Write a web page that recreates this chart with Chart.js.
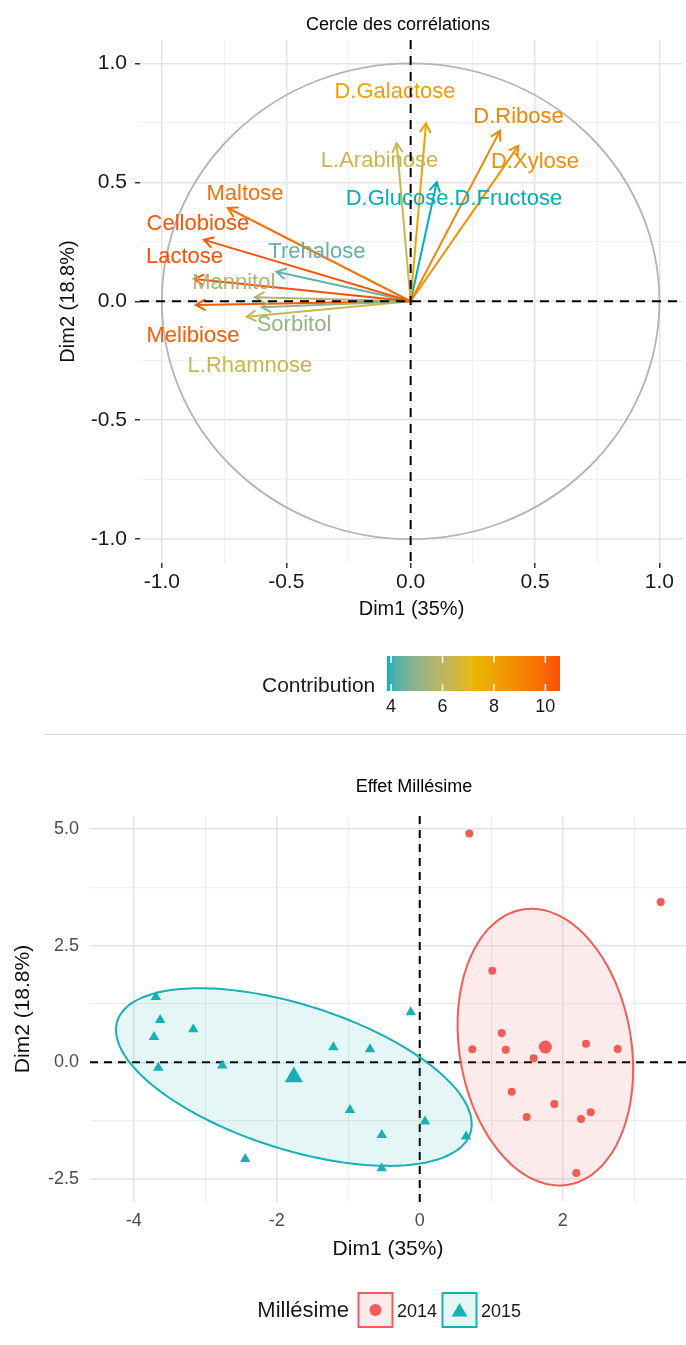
<!DOCTYPE html>
<html lang="fr">
<head>
<meta charset="utf-8">
<title>ACP sucres</title>
<script src="https://cdn.jsdelivr.net/npm/chart.js@4.4.1/dist/chart.umd.min.js"></script>
<style>
  html, body { margin: 0; padding: 0; background: #fff; }
  #page { position: relative; width: 686px; height: 1345px; overflow: hidden; }
  #varCanvas { position: absolute; left: 0; top: 0; }
  #sep { position: absolute; left: 44px; top: 734px; width: 642px; height: 1px; background: #d6d6d6; }
  #indCanvas { position: absolute; left: 0; top: 735px; }
</style>
</head>
<body>
<div id="page">
  <canvas id="varCanvas" width="686" height="735"></canvas>
  <div id="sep"></div>
  <canvas id="indCanvas" width="686" height="610"></canvas>
</div>
<script>
// --- cercle des corrélations : variables ---
const sugars = ["Maltose", "Cellobiose", "Lactose", "Trehalose", "Mannitol", "Sorbitol", "Melibiose",
  "L.Rhamnose", "D.Galactose", "L.Arabinose", "D.Glucose.D.Fructose", "D.Ribose", "D.Xylose"];
const dim1 = [-0.735, -0.831, -0.870, -0.539, -0.626, -0.599, -0.863, -0.659, 0.062, -0.056, 0.105, 0.359, 0.433];
const dim2 = [0.392, 0.258, 0.094, 0.124, 0.017, -0.025, -0.016, -0.065, 0.748, 0.664, 0.500, 0.716, 0.653];
const contrib = [9.7, 10.45, 10.57, 4.4, 5.6, 5.15, 10.3, 6.3, 8.05, 6.35, 3.84, 9.15, 8.75];
// label anchors (repelled text positions)
const labelDim1 = [-0.666, -0.855, -0.909, -0.377, -0.711, -0.469, -0.875, -0.646, -0.063, -0.125, 0.174, 0.434, 0.500];
const labelDim2 = [0.452, 0.325, 0.185, 0.207, 0.078, -0.100, -0.145, -0.271, 0.881, 0.591, 0.430, 0.774, 0.584];
const contribTicks = [4, 6, 8, 10];

// --- individus par millésime ---
const years = ["2014", "2015"];
const x2014 = [0.694, 3.37, 1.015, 1.147, 0.736, 1.203, 1.594, 2.326, 2.769, 1.287, 1.883, 1.496, 2.256, 2.392, 2.19];
const y2014 = [4.90, 3.43, 1.96, 0.627, 0.278, 0.27, 0.086, 0.40, 0.285, -0.63, -0.893, -1.171, -1.214, -1.071, -2.37];
const x2015 = [-3.69, -3.63, -3.166, -3.716, -3.656, -2.76, -1.208, -0.695, -0.126, -0.975, -0.531, 0.074, 0.648, -0.531, -2.44];
const y2015 = [1.40, 0.906, 0.707, 0.542, -0.115, -0.07, 0.321, 0.278, 1.07, -1.02, -1.557, -1.27, -1.59, -2.27, -2.07];
const ellipseLevel = 0.68;

const FONT = "'Liberation Sans', Arial, Helvetica, sans-serif";
Chart.defaults.font.family = FONT;

// colour gradient interpolated in Lab, like scale_color_gradientn
const gradientCols = ["#00AFBB", "#E7B800", "#FC4E07"];
const hexRgb = (h) => [1, 3, 5].map((i) => parseInt(h.substr(i, 2), 16));
function rgbLab(rgb) {
  const [r, g, b] = rgb.map((c) => {
    c /= 255;
    return c <= 0.04045 ? c / 12.92 : Math.pow((c + 0.055) / 1.055, 2.4);
  });
  const X = (0.4124564 * r + 0.3575761 * g + 0.1804375 * b) / 0.95047;
  const Y = 0.2126729 * r + 0.7151522 * g + 0.072175 * b;
  const Z = (0.0193339 * r + 0.119192 * g + 0.9503041 * b) / 1.08883;
  const f = (t) => (t > 216 / 24389 ? Math.cbrt(t) : ((24389 / 27) * t + 16) / 116);
  const fx = f(X), fy = f(Y), fz = f(Z);
  return [116 * fy - 16, 500 * (fx - fy), 200 * (fy - fz)];
}
function labRgb([L, a, b]) {
  const fy = (L + 16) / 116, fx = fy + a / 500, fz = fy - b / 200;
  const inv = (t) => (t ** 3 > 216 / 24389 ? t ** 3 : (116 * t - 16) / (24389 / 27));
  const X = inv(fx) * 0.95047, Y = inv(fy), Z = inv(fz) * 1.08883;
  const lin = [
    3.2404542 * X - 1.5371385 * Y - 0.4985314 * Z,
    -0.969266 * X + 1.8760108 * Y + 0.041556 * Z,
    0.0556434 * X - 0.2040259 * Y + 1.0572252 * Z
  ];
  return lin.map((c) => {
    c = c <= 0.0031308 ? 12.92 * c : 1.055 * Math.pow(c, 1 / 2.4) - 0.055;
    return Math.round(Math.min(1, Math.max(0, c)) * 255);
  });
}
const labStops = gradientCols.map((h) => rgbLab(hexRgb(h)));
const cMin = Math.min(...contrib), cMax = Math.max(...contrib);
function contribColor(v) {
  const t = Math.min(1, Math.max(0, (v - cMin) / (cMax - cMin))) * (labStops.length - 1);
  const k = Math.min(labStops.length - 2, Math.floor(t));
  const u = t - k;
  const lab = labStops[k].map((c, j) => c + (labStops[k + 1][j] - c) * u);
  const [r, g, b] = labRgb(lab);
  return `rgb(${r},${g},${b})`;
}

const isMult = (v, step) => Math.abs(v / step - Math.round(v / step)) < 1e-6;

// ---------- cercle des corrélations ----------
const varDecor = {
  id: "varDecor",
  beforeDatasetsDraw(chart) {
    const { ctx, scales: { x, y } } = chart;
    const cx = x.getPixelForValue(0), cy = y.getPixelForValue(0);
    const rx = x.getPixelForValue(1) - cx, ry = cy - y.getPixelForValue(1);
    ctx.save();
    ctx.strokeStyle = "#b4b4b4";
    ctx.lineWidth = 1.8;
    ctx.beginPath();
    ctx.ellipse(cx, cy, rx, ry, 0, 0, Math.PI * 2);
    ctx.stroke();
    ctx.restore();
  },
  afterDatasetsDraw(chart) {
    const { ctx, chartArea: a, scales: { x, y } } = chart;
    ctx.save();
    // arrowheads
    ctx.lineWidth = 2;
    ctx.lineCap = "round";
    sugars.forEach((s, i) => {
      const [p0, p1] = chart.getDatasetMeta(i).data;
      const ang = Math.atan2(p1.y - p0.y, p1.x - p0.x);
      ctx.strokeStyle = contribColor(contrib[i]);
      ctx.beginPath();
      ctx.moveTo(p1.x + 10 * Math.cos(ang + Math.PI - Math.PI / 6), p1.y + 10 * Math.sin(ang + Math.PI - Math.PI / 6));
      ctx.lineTo(p1.x, p1.y);
      ctx.lineTo(p1.x + 10 * Math.cos(ang + Math.PI + Math.PI / 6), p1.y + 10 * Math.sin(ang + Math.PI + Math.PI / 6));
      ctx.stroke();
    });
    // labels
    ctx.font = `22px ${FONT}`;
    ctx.textAlign = "center";
    ctx.textBaseline = "middle";
    sugars.forEach((s, i) => {
      ctx.fillStyle = contribColor(contrib[i]);
      ctx.fillText(s, x.getPixelForValue(labelDim1[i]), y.getPixelForValue(labelDim2[i]));
    });
    // axes at 0
    const x0 = x.getPixelForValue(0), y0 = y.getPixelForValue(0);
    ctx.strokeStyle = "#000";
    ctx.lineWidth = 2;
    ctx.lineCap = "butt";
    ctx.setLineDash([9, 7]);
    ctx.beginPath();
    ctx.moveTo(a.left, y0); ctx.lineTo(a.right, y0);
    ctx.moveTo(x0, a.top); ctx.lineTo(x0, a.bottom);
    ctx.stroke();
    ctx.restore();
  },
  afterDraw(chart) {
    const { ctx } = chart;
    ctx.save();
    ctx.fillStyle = "#000";
    ctx.font = `18px ${FONT}`;
    ctx.textAlign = "center";
    ctx.textBaseline = "middle";
    ctx.fillText("Cercle des corrélations", 398, 25);

    // colour bar legend
    const bl = 387, br = 560, bt = 656, bb = 691;
    for (let px = bl; px < br; px++) {
      ctx.fillStyle = contribColor(cMin + ((px + 0.5 - bl) / (br - bl)) * (cMax - cMin));
      ctx.fillRect(px, bt, 1, bb - bt);
    }
    ctx.strokeStyle = "#fff";
    ctx.lineWidth = 1.5;
    ctx.fillStyle = "#1a1a1a";
    ctx.font = `18px ${FONT}`;
    ctx.textBaseline = "alphabetic";
    contribTicks.forEach((t) => {
      const px = bl + ((t - cMin) / (cMax - cMin)) * (br - bl);
      ctx.beginPath();
      ctx.moveTo(px, bt); ctx.lineTo(px, bt + 7);
      ctx.moveTo(px, bb); ctx.lineTo(px, bb - 7);
      ctx.stroke();
      ctx.fillText(String(t), px, 712);
    });
    ctx.font = `21px ${FONT}`;
    ctx.textAlign = "left";
    ctx.fillText("Contribution", 262, 692);
    ctx.restore();
  }
};

new Chart(document.getElementById("varCanvas"), {
  type: "scatter",
  data: {
    datasets: sugars.map((s, i) => ({
      label: s,
      type: "line",
      data: [{ x: 0, y: 0 }, { x: dim1[i], y: dim2[i] }],
      borderColor: contribColor(contrib[i]),
      borderWidth: 2,
      pointRadius: 0,
      fill: false
    }))
  },
  options: {
    responsive: false,
    animation: false,
    events: [],
    layout: { autoPadding: false, padding: { top: 40, right: 3, bottom: 102, left: 0 } },
    plugins: { legend: { display: false }, tooltip: { enabled: false } },
    scales: {
      x: {
        type: "linear",
        min: -1.088,
        max: 1.095,
        afterFit: (s) => { s.height = 70; },
        border: { display: false },
        grid: {
          color: (c) => (isMult(c.tick.value, 0.5) ? "#e4e4e4" : "#f0f0f0"),
          lineWidth: (c) => (isMult(c.tick.value, 0.5) ? 1.5 : 1),
          tickLength: 5,
          tickWidth: 1.5,
          tickColor: (c) => (isMult(c.tick.value, 0.5) ? "#333" : "rgba(0,0,0,0)")
        },
        ticks: {
          stepSize: 0.25,
          includeBounds: false,
          autoSkip: false,
          maxRotation: 0,
          padding: 2,
          color: "#1a1a1a",
          font: { size: 21 },
          callback: (v) => (isMult(v, 0.5) ? v.toFixed(1) : "")
        },
        title: { display: true, text: "Dim1 (35%)", color: "#111", font: { size: 20 }, padding: { top: 0, bottom: 12 } }
      },
      y: {
        type: "linear",
        min: -1.1,
        max: 1.098,
        afterFit: (s) => { s.width = 140; },
        border: { display: false },
        grid: {
          color: (c) => (isMult(c.tick.value, 0.5) ? "#e4e4e4" : "#f0f0f0"),
          lineWidth: (c) => (isMult(c.tick.value, 0.5) ? 1.5 : 1),
          tickLength: 5,
          tickWidth: 1.5,
          tickColor: (c) => (isMult(c.tick.value, 0.5) ? "#333" : "rgba(0,0,0,0)")
        },
        ticks: {
          stepSize: 0.25,
          includeBounds: false,
          autoSkip: false,
          padding: 8,
          color: "#1a1a1a",
          font: { size: 21 },
          callback: (v) => (isMult(v, 0.5) ? v.toFixed(1) : "")
        },
        title: { display: true, text: "Dim2 (18.8%)", color: "#111", font: { size: 20 }, padding: { top: 56, bottom: 0 } }
      }
    }
  },
  plugins: [varDecor]
});

// ---------- effet millésime ----------
const groupCols = ["#F25C57", "#16B1B5"];
const groupFill = ["rgba(242,92,87,0.12)", "rgba(22,177,181,0.11)"];
const mean = (a) => a.reduce((s, v) => s + v, 0) / a.length;
const toPts = (xs, ys) => xs.map((v, i) => ({ x: v, y: ys[i] }));

// F quantile for 2 numerator df (closed form)
const qf2 = (p, d) => (d / 2) * (Math.pow(1 - p, -2 / d) - 1);

// normal confidence ellipse, as stat_ellipse(type = "norm")
function ellipse(xs, ys, level, segs = 120) {
  const n = xs.length, mx = mean(xs), my = mean(ys);
  let sxx = 0, syy = 0, sxy = 0;
  xs.forEach((v, i) => {
    sxx += (v - mx) ** 2;
    syy += (ys[i] - my) ** 2;
    sxy += (v - mx) * (ys[i] - my);
  });
  sxx /= n - 1; syy /= n - 1; sxy /= n - 1;
  const a = Math.sqrt(sxx), b = sxy / a, c = Math.sqrt(syy - b * b);
  const r = Math.sqrt(2 * qf2(level, n - 1));
  const pts = [];
  for (let k = 0; k <= segs; k++) {
    const t = (k / segs) * Math.PI * 2;
    const u = Math.cos(t), w = Math.sin(t);
    pts.push({ x: mx + r * u * a, y: my + r * (u * b + w * c) });
  }
  return pts;
}

const groupsX = [x2014, x2015], groupsY = [y2014, y2015];
const shapes = ["circle", "triangle"];
const ptRadius = [4, 6], meanRadius = [6.5, 10.5];

const indDatasets = [];
years.forEach((yr, g) => {
  indDatasets.push({
    label: yr + " ellipse",
    type: "line",
    data: ellipse(groupsX[g], groupsY[g], ellipseLevel),
    borderColor: groupCols[g],
    backgroundColor: groupFill[g],
    borderWidth: 2,
    borderJoinStyle: "round",
    pointRadius: 0,
    // a small tension keeps the line off the pixel-column fast path, which breaks closed curves
    tension: 0.1,
    fill: "shape",
    order: 3
  });
  indDatasets.push({
    label: yr,
    data: toPts(groupsX[g], groupsY[g]),
    pointStyle: shapes[g],
    pointRadius: ptRadius[g],
    backgroundColor: groupCols[g],
    borderWidth: 0,
    order: 1
  });
  indDatasets.push({
    label: yr + " moyenne",
    data: [{ x: mean(groupsX[g]), y: mean(groupsY[g]) }],
    pointStyle: shapes[g],
    pointRadius: meanRadius[g],
    backgroundColor: groupCols[g],
    borderWidth: 0,
    order: 1
  });
});

const indDecor = {
  id: "indDecor",
  beforeDatasetsDraw(chart) {
    const { ctx, chartArea: a, scales: { x, y } } = chart;
    const x0 = x.getPixelForValue(0), y0 = y.getPixelForValue(0);
    ctx.save();
    ctx.strokeStyle = "#000";
    ctx.lineWidth = 2;
    ctx.setLineDash([8, 6]);
    ctx.beginPath();
    ctx.moveTo(a.left, y0); ctx.lineTo(a.right, y0);
    ctx.moveTo(x0, a.top); ctx.lineTo(x0, a.bottom);
    ctx.stroke();
    ctx.restore();
  },
  afterDraw(chart) {
    const { ctx } = chart;
    ctx.save();
    ctx.fillStyle = "#000";
    ctx.font = `18px ${FONT}`;
    ctx.textAlign = "center";
    ctx.textBaseline = "middle";
    ctx.fillText("Effet Millésime", 414, 52);

    // legend
    ctx.textBaseline = "alphabetic";
    ctx.textAlign = "right";
    ctx.fillStyle = "#1a1a1a";
    ctx.font = `22px ${FONT}`;
    ctx.fillText("Millésime", 349, 582);
    const keyX = [358.5, 442.5], textX = [397, 481];
    const symR = [6, 9];
    years.forEach((yr, g) => {
      ctx.fillStyle = groupFill[g];
      ctx.fillRect(keyX[g], 558, 34, 34);
      ctx.strokeStyle = groupCols[g];
      ctx.lineWidth = 2;
      ctx.strokeRect(keyX[g], 558, 34, 34);
      ctx.fillStyle = groupCols[g];
      ctx.beginPath();
      if (g === 0) {
        ctx.arc(keyX[g] + 17, 575, symR[g], 0, Math.PI * 2);
      } else {
        const cx = keyX[g] + 17, cy = 577;
        for (let k = 0; k < 3; k++) {
          const t = (k * 2 * Math.PI) / 3;
          const px = cx + Math.sin(t) * symR[g], py = cy - Math.cos(t) * symR[g];
          if (k === 0) ctx.moveTo(px, py); else ctx.lineTo(px, py);
        }
        ctx.closePath();
      }
      ctx.fill();
      ctx.fillStyle = "#1a1a1a";
      ctx.font = `18px ${FONT}`;
      ctx.textAlign = "left";
      ctx.fillText(yr, textX[g], 582);
    });
    ctx.restore();
  }
};

new Chart(document.getElementById("indCanvas"), {
  type: "scatter",
  data: { datasets: indDatasets },
  options: {
    responsive: false,
    animation: false,
    events: [],
    layout: { autoPadding: false, padding: { top: 81, right: 0, bottom: 73, left: 0 } },
    plugins: { legend: { display: false }, tooltip: { enabled: false } },
    scales: {
      x: {
        type: "linear",
        min: -4.611,
        max: 3.724,
        afterFit: (s) => { s.height = 70; },
        border: { display: false },
        grid: {
          drawTicks: false,
          color: (c) => (isMult(c.tick.value, 2) ? "#e4e4e4" : "#eeeeee"),
          lineWidth: (c) => (isMult(c.tick.value, 2) ? 1.5 : 1.2)
        },
        ticks: {
          stepSize: 1,
          includeBounds: false,
          autoSkip: false,
          maxRotation: 0,
          padding: 8,
          color: "#4d4d4d",
          font: { size: 18 },
          callback: (v) => (isMult(v, 2) ? String(Math.round(v)) : "")
        },
        title: { display: true, text: "Dim1 (35%)", color: "#111", font: { size: 21 }, padding: { top: 0, bottom: 10 } }
      },
      y: {
        type: "linear",
        min: -2.991,
        max: 5.274,
        afterFit: (s) => { s.width = 90; },
        border: { display: false },
        grid: {
          drawTicks: false,
          color: (c) => (isMult(c.tick.value, 2.5) ? "#e4e4e4" : "#eeeeee"),
          lineWidth: (c) => (isMult(c.tick.value, 2.5) ? 1.5 : 1.2)
        },
        ticks: {
          stepSize: 1.25,
          includeBounds: false,
          autoSkip: false,
          padding: 11,
          color: "#4d4d4d",
          font: { size: 18 },
          callback: (v) => (isMult(v, 2.5) ? v.toFixed(1) : "")
        },
        title: { display: true, text: "Dim2 (18.8%)", color: "#111", font: { size: 21 }, padding: { top: 11, bottom: 0 } }
      }
    }
  },
  plugins: [indDecor]
});
</script>
</body>
</html>
